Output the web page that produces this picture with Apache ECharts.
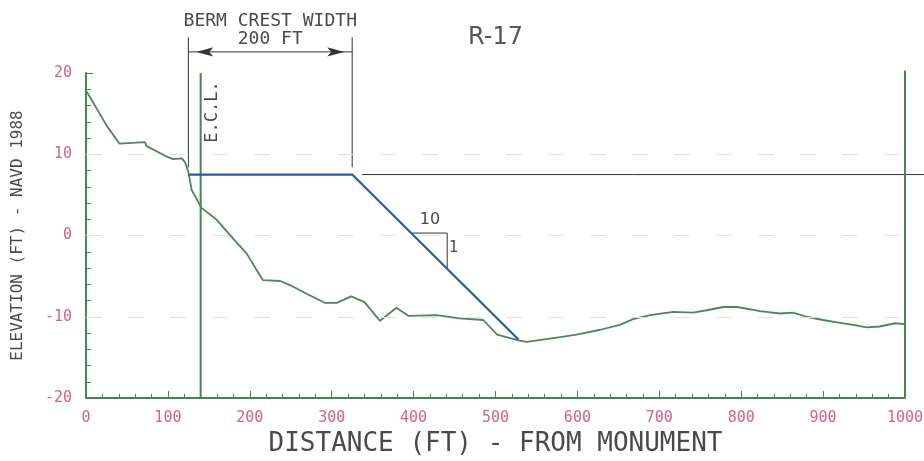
<!DOCTYPE html>
<html>
<head>
<meta charset="utf-8">
<script src="https://cdn.jsdelivr.net/npm/echarts@6/dist/echarts.min.js"></script>
<style>
  html, body { margin: 0; padding: 0; background: #fff; }
  #chart { width: 924px; height: 461px; }
</style>
</head>
<body>
<div id="chart"></div>
<script>
// Beach profile R-17 — readings taken off the survey plot
var distance  = [1, 26, 41, 72, 74, 99, 106, 117, 121, 125, 129, 141, 160, 178, 196, 216, 237, 249, 270, 292, 306, 324, 340, 359, 379, 394, 428, 456, 485, 502, 528, 538, 579, 599, 628, 652, 668, 689, 717, 741, 758, 778, 795, 823, 847, 863, 880, 900, 917, 937, 953, 969, 988, 1000];
var elevation = [17.7, 13.4, 11.3, 11.5, 11.0, 9.7, 9.4, 9.5, 9.0, 7.8, 5.6, 3.4, 1.9, -0.2, -2.2, -5.5, -5.6, -6.1, -7.2, -8.3, -8.3, -7.5, -8.2, -10.5, -8.9, -9.9, -9.8, -10.2, -10.4, -12.2, -12.9, -13.1, -12.5, -12.2, -11.6, -11.0, -10.3, -9.8, -9.4, -9.5, -9.2, -8.8, -8.8, -9.3, -9.6, -9.5, -10.0, -10.4, -10.7, -11.0, -11.3, -11.2, -10.8, -10.9];

// design berm: crest 200 ft at +7.5, then 10:1 slope to the profile
var bermX = [125, 325, 528];
var bermY = [7.5, 7.5, -12.8];
var crestLevel = 7.5;
var crestRefX = [337, 1000, 1030]; // thin reference line at crest level (runs past the frame)
var eclX = 140;                    // erosion control line
var endX = 1000;
var gridY = [10, 0, -10];
var dimY = 22.6;                   // berm crest width dimension line
var extTop = 24.4, extBottom = 8.4;
var slopeTri = [[398, 0.3], [441, 0.3], [441, -4.0]];

var xMin = 0, xMax = 1000, xStep = 100;
var yMin = -20, yMax = 20, yStep = 10;

var GREEN = "#3f8a4f", PROFILE = "#4c8758", BLUE = "#2b5aa8", INK = "#4a4a4a", PINK = "#d6608a";
var MONO = "'DejaVu Sans Mono', 'Liberation Mono', monospace";

var chart = echarts.init(document.getElementById("chart"), null, { renderer: "canvas" });

function pairs(xs, ys) { return xs.map(function (x, i) { return [x, ys[i]]; }); }
function thin(name, data, color, width) {
  return { name: name, type: "line", data: data, symbol: "none", clip: false, silent: true,
           lineStyle: { color: color, width: width || 1 }, z: 3 };
}

var series = [
  // faint dashed grid at 10, 0, -10
  { type: "line", data: [], silent: true,
    markLine: { silent: true, symbol: "none", label: { show: false },
      lineStyle: { color: "#e2e2e2", type: [16, 26], width: 1 },
      data: gridY.map(function (y) { return { yAxis: y }; }) } },
  thin("crest ref", [[crestRefX[0], crestLevel], [crestRefX[1], crestLevel]], "#333", 1),
  thin("ext L", [[bermX[0], extBottom], [bermX[0], extTop]], "#333", 1),
  thin("ext R", [[bermX[1], extBottom], [bermX[1], extTop]], "#333", 1),
  // dimension line with arrowheads at both ends
  { name: "dim", type: "line", clip: false, silent: true, z: 3,
    lineStyle: { color: "#333", width: 1 }, itemStyle: { color: "#333" },
    showSymbol: true, showAllSymbol: true,
    data: [
      { value: [bermX[0], dimY], symbol: "arrow", symbolSize: [7, 17], symbolRotate: 90, symbolOffset: [8, 0] },
      { value: [bermX[1], dimY], symbol: "arrow", symbolSize: [7, 17], symbolRotate: -90, symbolOffset: [-8, 0] }
    ] },
  thin("slope", slopeTri, "#333", 1),
  thin("ECL", [[eclX, yMin], [eclX, yMax]], GREEN, 2),
  thin("end", [[endX, yMin], [endX, yMax + 0.3]], GREEN, 2),
  { name: "profile", type: "line", data: pairs(distance, elevation), symbol: "none", silent: true,
    lineStyle: { color: PROFILE, width: 1.8 }, z: 4 },
  { name: "berm", type: "line", data: pairs(bermX, bermY), symbol: "none", silent: true,
    lineStyle: { color: BLUE, width: 2.2 }, z: 5 }
];

chart.setOption({
  animation: false,
  backgroundColor: "#fff",
  grid: { left: 86, right: 19, top: 73, bottom: 63, containLabel: false, outerBoundsMode: "none" },
  xAxis: {
    type: "value", min: xMin, max: xMax, interval: xStep,
    name: "DISTANCE (FT) - FROM MONUMENT", nameLocation: "middle", nameGap: 32,
    nameTextStyle: { color: INK, fontSize: 26, fontFamily: MONO },
    axisLine: { show: true, onZero: false, lineStyle: { color: GREEN, width: 2 } },
    axisTick: { show: true, inside: true, length: 7, lineStyle: { color: GREEN } },
    minorTick: { show: true, splitNumber: 5, length: 4, lineStyle: { color: GREEN } },
    axisLabel: { color: PINK, fontSize: 15, fontFamily: MONO, margin: 13,
                 formatter: function (v) { return String(v); } },
    splitLine: { show: false }
  },
  yAxis: {
    type: "value", min: yMin, max: yMax, interval: yStep,
    name: "ELEVATION (FT) - NAVD 1988", nameLocation: "middle", nameGap: 60,
    nameTextStyle: { color: INK, fontSize: 16, fontFamily: MONO },
    axisLine: { show: true, onZero: false, lineStyle: { color: GREEN, width: 2 } },
    axisTick: { show: true, inside: true, length: 7, lineStyle: { color: GREEN } },
    minorTick: { show: true, splitNumber: 5, length: 5, lineStyle: { color: GREEN } },
    axisLabel: { color: PINK, fontSize: 15, fontFamily: MONO, margin: 14 },
    splitLine: { show: false }
  },
  series: series
});

// text notes and the run-out of the crest line, placed from data positions
function px(x, y) { return chart.convertToPixel({ gridIndex: 0 }, [x, y]); }
function note(text, at, size, opts) {
  opts = opts || {};
  return {
    type: "text", x: at[0], y: at[1], rotation: opts.rotation || 0, silent: true,
    style: { text: text, fill: opts.color || INK, font: size + "px " + (opts.font || MONO),
             align: "center", verticalAlign: "middle" }
  };
}
var mid = (bermX[0] + bermX[1]) / 2;
var runA = px(crestRefX[1], crestLevel), runB = px(crestRefX[2], crestLevel);
chart.setOption({
  graphic: [
    { type: "line", silent: true, z: 3,
      shape: { x1: runA[0], y1: runA[1], x2: runB[0], y2: runB[1] },
      style: { stroke: "#333", lineWidth: 1 } },
    note("BERM CREST WIDTH", px(mid, 26.4), 18),
    note("200 FT", px(mid, 24.2), 18),
    note("R-17", px(500, 24.3), 24, { font: "'DejaVu Sans', sans-serif", color: "#555" }),
    note("E.C.L.", px(eclX + 15, 15.2), 17, { rotation: Math.PI / 2 }),
    note("10", px(420, 1.9), 16, { font: "'DejaVu Sans', sans-serif" }),
    note("1", px(449, -1.5), 15, { font: "'DejaVu Sans', sans-serif" })
  ]
});
</script>
</body>
</html>
